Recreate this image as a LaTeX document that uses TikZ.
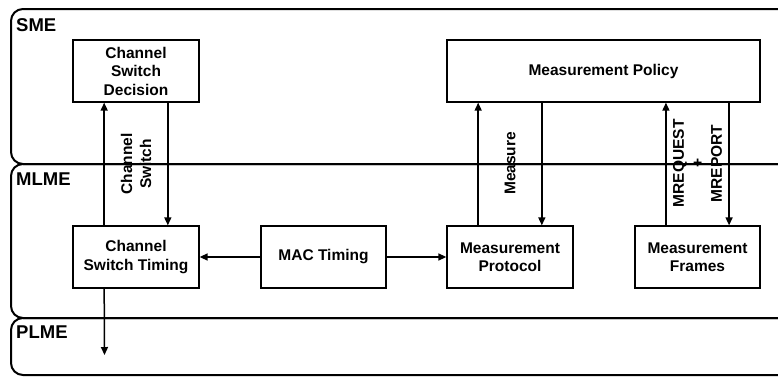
\documentclass[tikz,border=0pt]{standalone}
\usepackage{fontspec}
\setmainfont{Liberation Sans}
\usetikzlibrary{calc, arrows.meta}

\begin{document}
\begin{tikzpicture}[x=1pt, y=-1pt,
  layer/.style={line width=2pt, rounded corners=12pt},
  block/.style={draw, line width=1.3pt, minimum width=126pt, minimum height=62pt, align=center, inner sep=0pt, font=\fontsize{15.5}{18.5}\selectfont\bfseries},
  tag/.style={anchor=base west, inner sep=0pt, font=\fontsize{18.5}{22}\selectfont\bfseries},
  flow/.style={line width=1.5pt, -{Triangle[length=8pt,width=7pt]}},
  sig/.style={rotate=90, align=center, inner sep=0pt, font=\fontsize{15.5}{19}\selectfont\bfseries}]
\useasboundingbox (0,0) rectangle (778,376);
\clip (0,0) rectangle (778,376);

%the layers
\draw [layer] (11,164) rectangle (800,9);
\draw [layer] (11,318) rectangle (800,164);
\draw [layer] (11,375) rectangle (800,318);
\node [tag] (sme) at (16,31) {SME};
\node [tag] (mlme) at (16,185) {MLME};
\node [tag] (plme) at (16,338) {PLME};

%the blocks
\node [block] (csd) at (136,71) {Channel\\Switch\\Decision};
\node [block, minimum width=313pt] (mpol) at (603.5,71) {Measurement Policy};
\node [block] (cst) at (136,257) {Channel\\Switch Timing};
\node [block, minimum width=125pt] (mac) at (323.5,257) {MAC Timing};
\node [block] (mprot) at (510,257) {Measurement\\Protocol};
\node [block, minimum width=125pt] (mfr) at (697.5,257) {Measurement\\Frames};

%the ends of the vertical arrows
\coordinate (cs1) at ($(cst.north west)!0.25!(cst.north east)$);
\coordinate (cs2) at ($(cst.north west)!0.75!(cst.north east)$);
\coordinate (cs3) at ($(cst.south west)!0.25!(cst.south east)$);
\coordinate (me1) at ($(mprot.north west)!0.25!(mprot.north east)$);
\coordinate (me2) at ($(mprot.north west)!0.75!(mprot.north east)$);
\coordinate (mr1) at ($(mfr.north west)!0.25!(mfr.north east)$);
\coordinate (mr2) at ($(mfr.north west)!0.75!(mfr.north east)$);
\coordinate (phy) at (104.5,355);

%the arrows
\draw [flow] (cs1) -- (cs1 |- csd.south);
\draw [flow] (cs2 |- csd.south) -- (cs2);
\draw [flow] (me1) -- (me1 |- mpol.south);
\draw [flow] (me2 |- mpol.south) -- (me2);
\draw [flow] (mr1) -- (mr1 |- mpol.south);
\draw [flow] (mr2 |- mpol.south) -- (mr2);
\draw [flow] (mac.west) -- (cst.east);
\draw [flow] (mac.east) -- (mprot.west);
\draw [flow] (cs3) -- (phy);

%the labels
\node [sig] (cslbl) at ($(csd.south)!0.5!(cst.north)$) {Channel\\Switch};
\node [sig] (melbl) at ($(mprot.north)+(0,-62)$) {Measure};
\node [sig] (mrlbl) at ($(mfr.north)+(0,-62)$) {MREQUEST\\+\\MREPORT};
\end{tikzpicture}
\end{document}
